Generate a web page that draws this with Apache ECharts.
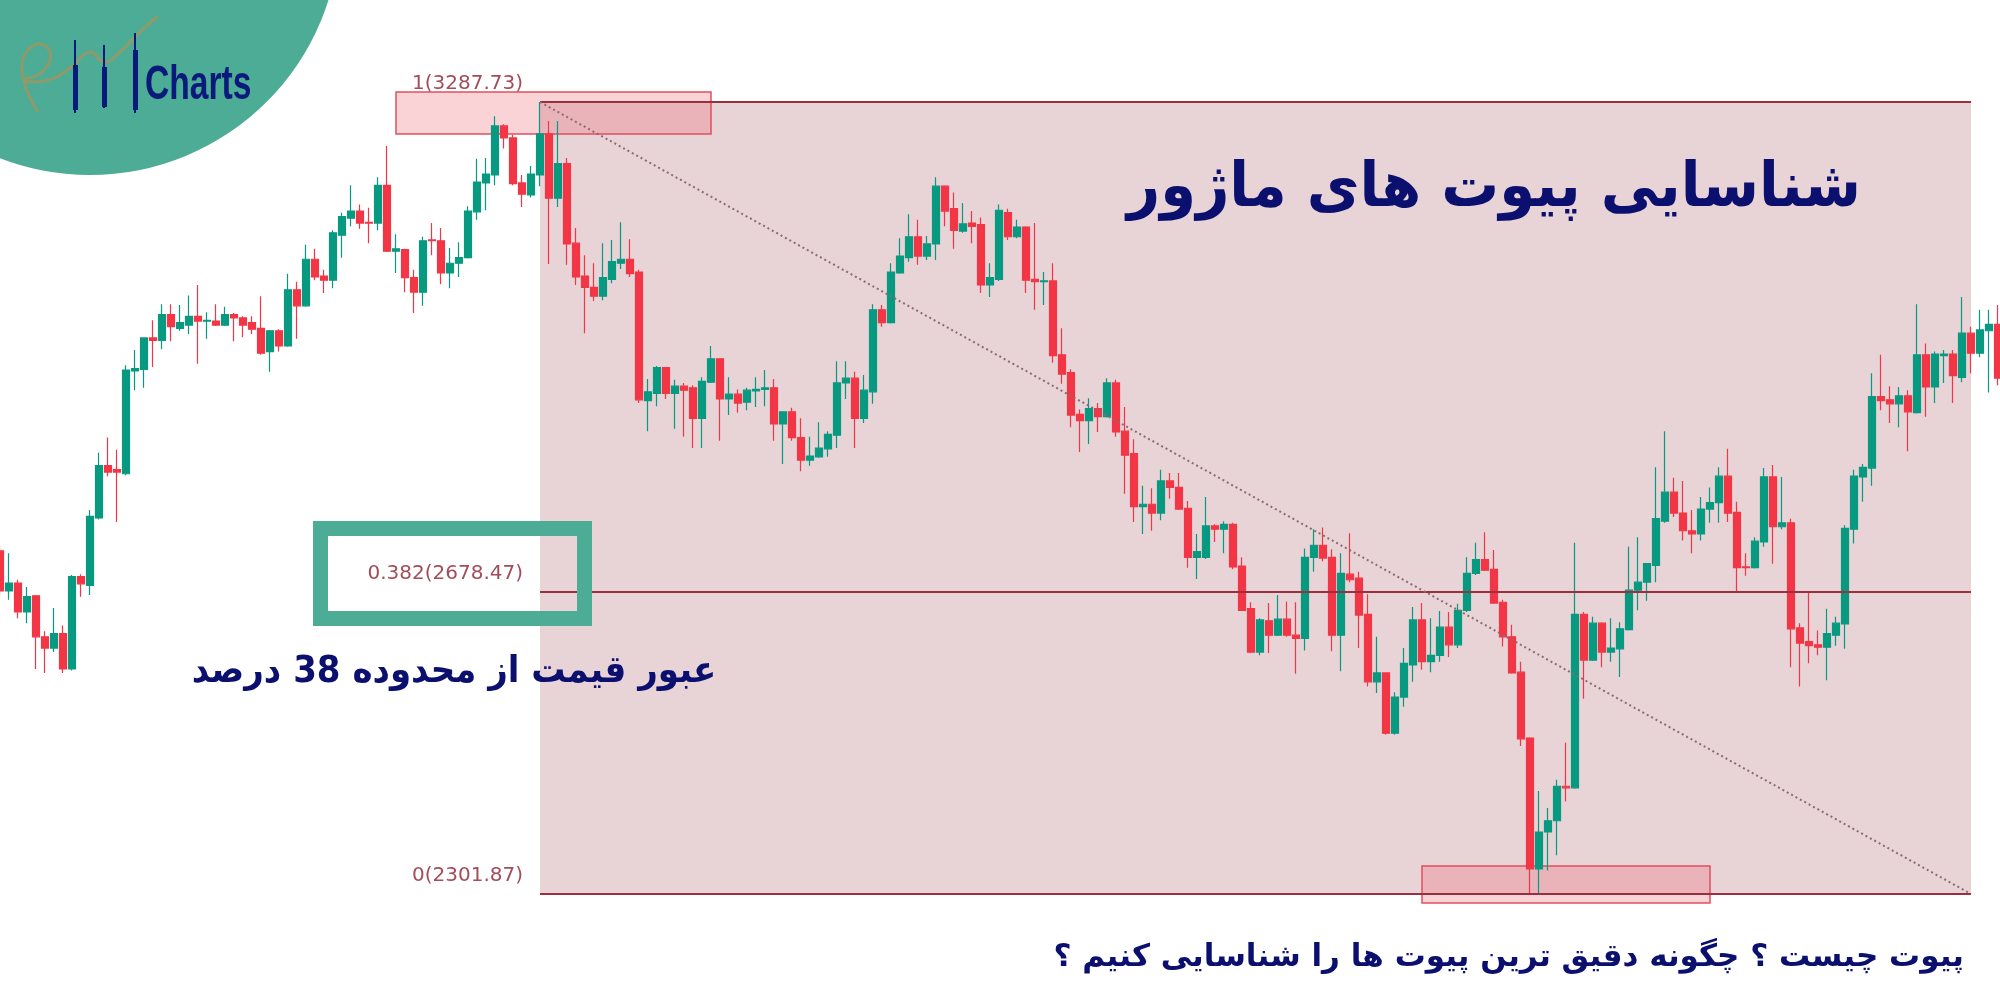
<!DOCTYPE html>
<html>
<head>
<meta charset="utf-8">
<script src="https://cdn.jsdelivr.net/npm/echarts@6/dist/echarts.min.js"></script>
<style>
html,body{margin:0;padding:0;background:#fff;}
#c{width:2000px;height:1000px;}
</style>
</head>
<body>
<div id="c"></div>
<script>
// ---- DATA (candles: [open, close, low, high]) ----
const candlesA = [ // 1-40
[2729,2679,2673,2736],[2679,2689,2668,2726],[2689,2653,2645,2693],[2653,2672,2639,2684],[2673,2622,2582,2674],
[2622,2608,2577,2629],[2608,2626,2603,2658],[2626,2582,2577,2636],[2582,2697,2580,2699],[2697,2688,2672,2700],
[2686,2772,2674,2780],[2770,2835,2768,2851],[2835,2827,2822,2870],[2830,2827,2765,2855],[2825,2954,2823,2960],
[2953,2956,2929,2979],[2955,2994,2932,2995],[2994,2991,2958,3016],[2991,3023,2980,3036],[3023,3008,2990,3036],
[3006,3013,3003,3035],[3010,3021,2999,3047],[3021,3015,2962,3060],[3015,3016,2993,3026],[3015,3010,3009,3036],
[3010,3023,3009,3033],[3023,3019,2990,3025],[3019,3010,2995,3021],[3013,3005,2999,3021],[3006,2975,2973,3046],
[2977,3003,2952,3004],[3003,2984,2977,3005],[2984,3054,2983,3074],[3054,3034,2993,3064],[3034,3092,3033,3110],
[3092,3070,3066,3105],[3071,3066,3050,3079],[3066,3125,3056,3128],[3122,3145,3094,3150],[3143,3152,3133,3184]
];
const candlesB = [ // 41-80
[3152,3137,3130,3160],[3138,3137,3112,3156],[3137,3184,3128,3194],[3184,3102,3101,3233],[3102,3105,3075,3123],
[3104,3069,3051,3105],[3069,3051,3025,3079],[3051,3115,3034,3120],[3116,3115,3097,3137],[3115,3075,3061,3131],
[3075,3087,3056,3106],[3087,3094,3070,3113],[3094,3152,3093,3158],[3151,3188,3141,3217],[3187,3198,3153,3218],
[3197,3258,3184,3270],[3258,3243,3230,3260],[3243,3186,3184,3247],[3187,3173,3157,3197],[3172,3198,3169,3208],
[3197,3248,3183,3287.73],[3248,3168,3086,3264],[3168,3211,3157,3264],[3211,3111,3085,3218],[3112,3070,3060,3131],
[3071,3057,3000,3097],[3057,3046,3040,3087],[3046,3069,3041,3112],[3067,3089,3062,3116],[3087,3092,3080,3138],
[3092,3074,3070,3117],[3076,2917,2913,3079],[2916,2927,2878,2943],[2925,2957,2909,2959],[2957,2925,2918,2957],
[2925,2934,2881,2942],[2934,2929,2871,2938],[2932,2894,2857,2935],[2894,2940,2857,2945],[2939,2968,2938,2984]
];
const candlesC = [ // 81-120
[2968,2918,2866,2968],[2918,2924,2898,2945],[2924,2913,2901,2930],[2914,2929,2904,2932],[2928,2930,2908,2945],
[2930,2932,2909,2954],[2932,2887,2866,2943],[2887,2902,2837,2902],[2902,2870,2866,2907],[2870,2842,2828,2894],
[2842,2847,2835,2871],[2846,2857,2845,2889],[2856,2874,2846,2878],[2873,2938,2857,2965],[2938,2944,2918,2965],
[2944,2894,2857,2952],[2894,2929,2888,2948],[2927,3029,2912,3036],[3029,3013,3008,3035],[3013,3076,3012,3087],
[3075,3096,3074,3118],[3094,3120,3089,3148],[3120,3096,3085,3141],[3096,3111,3091,3121],[3111,3183,3091,3194],
[3183,3152,3133,3184],[3155,3128,3105,3175],[3127,3136,3125,3162],[3137,3133,3112,3152],[3135,3060,3050,3144],
[3060,3069,3045,3087],[3067,3153,3065,3160],[3150,3120,3116,3155],[3120,3132,3118,3141],[3132,3066,3050,3133],
[3067,3064,3029,3137],[3064,3065,3035,3076],[3065,2972,2963,3087],[2973,2949,2937,3006],[2951,2898,2883,2955]
];
const candlesD = [ // 121-160
[2899,2891,2852,2905],[2891,2906,2862,2919],[2906,2896,2877,2913],[2896,2938,2895,2944],[2938,2877,2871,2942],
[2878,2848,2800,2908],[2850,2784,2765,2868],[2784,2787,2750,2810],[2787,2776,2754,2807],[2776,2816,2767,2830],
[2816,2808,2794,2826],[2808,2781,2780,2826],[2782,2721,2708,2791],[2721,2728,2694,2750],[2721,2760,2719,2796],
[2760,2756,2740,2762],[2756,2762,2726,2766],[2762,2709,2706,2764],[2710,2655,2654,2721],[2657,2603,2602,2665],
[2603,2643,2599,2645],[2642,2624,2602,2664],[2624,2644,2623,2674],[2644,2624,2622,2666],[2624,2620,2576,2665],
[2620,2721,2605,2732],[2721,2736,2703,2756],[2736,2720,2716,2758],[2721,2624,2604,2731],[2624,2701,2579,2726],
[2700,2693,2690,2751],[2695,2649,2608,2703],[2650,2566,2560,2675],[2566,2577,2552,2622],[2577,2502,2500,2577],
[2502,2547,2500,2553],[2547,2589,2535,2608],[2587,2643,2566,2659],[2643,2591,2581,2664],[2591,2599,2578,2645]
];
const candlesE = [ // 161-200
[2599,2634,2591,2654],[2634,2612,2597,2653],[2612,2655,2608,2663],[2655,2701,2653,2721],[2701,2718,2699,2739],
[2718,2705,2704,2752],[2706,2664,2663,2730],[2665,2622,2610,2668],[2622,2577,2576,2637],[2578,2495,2486,2591],
[2496,2333,2301.87,2497],[2333,2379,2303,2430],[2379,2393,2331,2409],[2393,2436,2350,2444],[2436,2434,2417,2490],
[2434,2650,2433,2739],[2650,2593,2545,2653],[2593,2639,2592,2647],[2639,2603,2584,2640],[2603,2608,2591,2645],
[2607,2632,2572,2640],[2631,2680,2630,2734],[2680,2690,2655,2746],[2690,2713,2667,2714],[2711,2769,2690,2833],
[2766,2802,2764,2878],[2802,2776,2771,2820],[2776,2754,2742,2816],[2754,2750,2726,2780],[2750,2781,2742,2796],
[2781,2789,2764,2808],[2789,2822,2764,2833],[2822,2776,2765,2856],[2777,2708,2678,2790],[2709,2708,2698,2726],
[2708,2741,2707,2746],[2740,2821,2734,2832],[2821,2759,2713,2836],[2759,2764,2756,2821],[2764,2632,2584,2769]
];
const candlesF = [ // 201-223
[2633,2614,2560,2639],[2616,2611,2589,2679],[2612,2609,2599,2630],[2609,2626,2568,2657],[2624,2639,2611,2647],
[2638,2757,2607,2761],[2756,2822,2738,2830],[2821,2833,2790,2837],[2832,2921,2810,2950],[2921,2916,2904,2973],
[2917,2912,2888,2934],[2912,2922,2883,2933],[2922,2902,2853,2929],[2901,2973,2900,3036],[2973,2933,2896,2987],
[2933,2974,2913,2977],[2972,2974,2938,2979],[2974,2947,2913,2979],[2945,3000,2939,3045],[3000,2975,2950,3008],
[2975,3004,2970,3029],[3003,3011,2926,3029],[3011,2944,2935,3035]
];
const fibRatios = ['1', '0.382', '0'];
const fibPrices = [3287.73, 2678.47, 2301.87];
const fibStartCat = '61';   // pivot high candle
const fibEndCat = '220';
const topBoxCats = ['45', '80'];   const topBoxPrices = [3300.2, 3247.9];
const lowBoxCats = ['159', '191']; const lowBoxPrices = [2336.7, 2290.6];
const titleText = 'شناسایی پیوت های ماژور';
const noteText = 'عبور قیمت از محدوده 38 درصد';
const footText = 'پیوت چیست ؟ چگونه دقیق ترین پیوت ها را شناسایی کنیم ؟';

const candles = [].concat(candlesA, candlesB, candlesC, candlesD, candlesE, candlesF);
const categories = candles.map((_, i) => String(i + 1));

const UP = '#089981', DOWN = '#f23645', FIB = '#9a2f40', NAVY = '#0b0f6e', TEAL = '#4dac96';
const chart = echarts.init(document.getElementById('c'), null, {renderer: 'canvas'});

const fibLines = fibPrices.map(p => [{coord: [fibStartCat, p]}, {coord: [fibEndCat, p]}]);

chart.setOption({
  animation: false,
  backgroundColor: '#ffffff',
  grid: {left: 0, right: 2, top: 0, bottom: 0},
  xAxis: {type: 'category', data: categories, boundaryGap: false, show: false},
  yAxis: {type: 'value', min: 2169.9, max: 3414.7, show: false, splitLine: {show: false}},
  series: [
    {
      type: 'line', data: [], z: 1, silent: true,
      markArea: {
        silent: true,
        itemStyle: {color: '#e8d3d6', opacity: 1},
        data: [[{coord: [fibStartCat, fibPrices[0]]}, {coord: [fibEndCat, fibPrices[2]]}]]
      }
    },
    {
      type: 'candlestick', data: candles, z: 2, barWidth: 7, clip: false,
      itemStyle: {color: UP, color0: DOWN, borderColor: UP, borderColor0: DOWN, borderWidth: 1.2}
    },
    {
      type: 'line', data: [], z: 3, silent: true,
      markLine: {
        silent: true, symbol: 'none', label: {show: false},
        lineStyle: {color: FIB, width: 2, type: 'solid', opacity: 1},
        data: fibLines.concat([[
          {coord: [fibStartCat, fibPrices[0]], lineStyle: {color: '#8d6a70', width: 2, type: [2, 3]}},
          {coord: [fibEndCat, fibPrices[2]]}
        ]])
      },
      markArea: {
        silent: true,
        itemStyle: {color: 'rgba(238,96,110,0.28)', borderColor: '#e0505f', borderWidth: 1.5, opacity: 1},
        data: [
          [{coord: [topBoxCats[0], topBoxPrices[0]]}, {coord: [topBoxCats[1], topBoxPrices[1]]}],
          [{coord: [lowBoxCats[0], lowBoxPrices[0]]}, {coord: [lowBoxCats[1], lowBoxPrices[1]]}]
        ]
      }
    }
  ]
});

// label positions tied to fib levels
const labelEls = fibPrices.map((p, i) => {
  const y = chart.convertToPixel({gridIndex: 0}, [fibStartCat, p])[1];
  return {
    type: 'text', z: 20,
    style: {text: fibRatios[i] + '(' + p.toFixed(2) + ')', x: 523, y: y - 18,
      align: 'right', verticalAlign: 'middle', font: '20px "DejaVu Sans", sans-serif', fill: '#a34d5a'}
  };
});

const PERSIAN = '"DejaVu Sans", "Noto Sans", sans-serif';
chart.setOption({
  graphic: [
    {type: 'circle', z: 10, shape: {cx: 90, cy: -75, r: 250}, style: {fill: TEAL}},
    {type: 'polyline', z: 11, shape: {smooth: 0.5, points: [[38,112],[22,70],[34,45],[50,52],[42,72],[24,80],[48,80],[70,68],[90,52],[104,62],[120,52],[140,32],[158,16]]},
      style: {stroke: '#8f9a6c', lineWidth: 3, fill: null}},
    {type: 'line', z: 12, shape: {x1: 75, y1: 40, x2: 75, y2: 113}, style: {stroke: '#0a1a7a', lineWidth: 2}},
    {type: 'rect', z: 12, shape: {x: 73, y: 65, width: 5, height: 45}, style: {fill: '#0a1a7a'}},
    {type: 'line', z: 12, shape: {x1: 104, y1: 45, x2: 104, y2: 108}, style: {stroke: '#0a1a7a', lineWidth: 2}},
    {type: 'rect', z: 12, shape: {x: 102, y: 67, width: 5, height: 40}, style: {fill: '#0a1a7a'}},
    {type: 'line', z: 12, shape: {x1: 135, y1: 33, x2: 135, y2: 113}, style: {stroke: '#0a1a7a', lineWidth: 2}},
    {type: 'rect', z: 12, shape: {x: 133, y: 50, width: 5, height: 60}, style: {fill: '#0a1a7a'}},
    {type: 'text', z: 12, x: 145, y: 86, scaleX: 0.7,
      style: {text: 'Charts', x: 0, y: 0, verticalAlign: 'middle', font: 'bold 48px "Liberation Sans Narrow", "Liberation Sans", sans-serif', fill: '#0a1a7a'}},
    {type: 'rect', z: 15, shape: {x: 320.5, y: 528.5, width: 264, height: 90}, style: {fill: null, stroke: TEAL, lineWidth: 15}},
    {type: 'text', z: 20, x: 1494, y: 190, scaleX: 0.93,
      style: {text: titleText, x: 0, y: 0, align: 'center', verticalAlign: 'middle', font: 'bold 62px ' + PERSIAN, fill: NAVY}},
    {type: 'text', z: 20, x: 454, y: 672, scaleX: 0.92,
      style: {text: noteText, x: 0, y: 0, align: 'center', verticalAlign: 'middle', font: 'bold 37px ' + PERSIAN, fill: NAVY}},
    {type: 'text', z: 20, style: {text: footText, x: 1964, y: 958, align: 'right', verticalAlign: 'middle', font: 'bold 31px ' + PERSIAN, fill: NAVY}}
  ].concat(labelEls)
});
</script>
</body>
</html>
